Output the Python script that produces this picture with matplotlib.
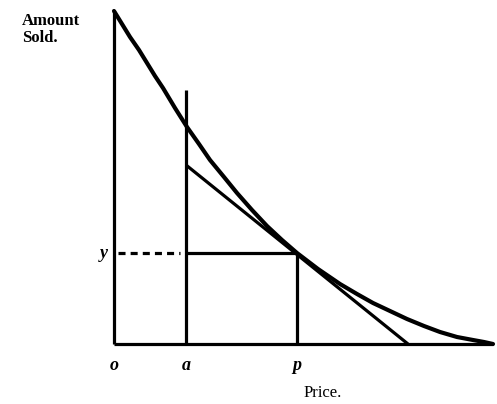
import numpy as np
import matplotlib.pyplot as plt

# demand curve (price, amount sold)
curve_price = [0, 8, 16, 25, 33, 41, 49, 61, 73, 85, 96, 110, 123, 138, 153, 168,
               183, 204, 226, 243, 259, 276, 293, 310, 326, 343, 359, 370, 379]
curve_amount = [333, 320, 307, 294, 281, 268, 256, 236, 217, 200, 184, 167, 151,
                134, 118, 104, 91, 75, 60, 50, 41, 33, 25, 18, 12, 7, 4, 2, 0]

price_a = 72
price_p = 183
amount_y = 91
axis_top = 333
axis_right = 379
a_line_top = 254
tangent_price = [price_a, 294]
tangent_amount = [179, 0]

fig = plt.figure(figsize=(4.97, 4.04), dpi=100)
ax = fig.add_axes([0, 0, 1, 1])
ax.set_xlim(-114, 383)
ax.set_ylim(-60, 344)
ax.axis('off')

lw = 2.3
kw = dict(color='black', solid_capstyle='butt', solid_joinstyle='round')

# axes
ax.plot([0, 0], [0, axis_top], lw=lw, **kw)
ax.plot([0, axis_right], [0, 0], lw=lw, **kw)

# vertical at a and p
ax.plot([price_a, price_a], [0, a_line_top], lw=lw, **kw)
ax.plot([price_p, price_p], [0, amount_y], lw=lw, **kw)

# horizontal at y and dashed guide
ax.plot([price_a, price_p], [amount_y, amount_y], lw=lw, **kw)
ax.plot([4, 66], [amount_y, amount_y], lw=lw, color='black', linestyle=(0, (2.2, 1.6)))

# tangent line
ax.plot(tangent_price, tangent_amount, lw=lw, **kw)

# demand curve
ax.plot(curve_price, curve_amount, lw=3.0, color='black', solid_joinstyle='round',
        solid_capstyle='round')

serif = 'Liberation Serif'
ax.text(-92, 331, 'Amount\nSold.', fontsize=12, fontfamily=serif, fontweight='bold',
        ha='left', va='top', linespacing=1.1)
ax.text(-10, amount_y, 'y', fontsize=13, fontfamily=serif, fontstyle='italic',
        fontweight='bold', ha='center', va='center')
for lab, px in [('o', 0), ('a', price_a), ('p', price_p)]:
    ax.text(px, -22, lab, fontsize=13, fontfamily=serif, fontstyle='italic',
            fontweight='bold', ha='center', va='center')
ax.text(209, -49, 'Price.', fontsize=12, fontfamily=serif, ha='center', va='center')

fig.savefig('out.png', dpi=100)
